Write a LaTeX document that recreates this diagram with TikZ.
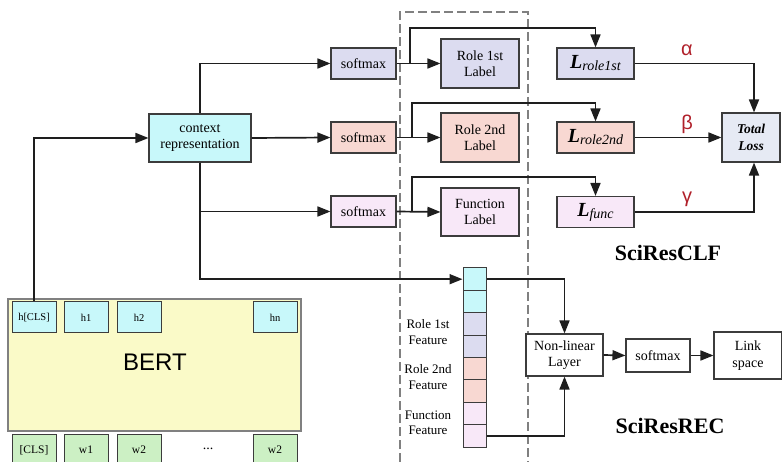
\documentclass[tikz,border=0pt]{standalone}
\usepackage{fontspec}
\setmainfont{Liberation Serif}
\newfontfamily\sansfam{Liberation Sans}
\usetikzlibrary{arrows.meta}
\definecolor{cy}{HTML}{C8F8FA}
\definecolor{lav}{HTML}{DCDCF0}
\definecolor{pnk}{HTML}{F8D8D2}
\definecolor{vio}{HTML}{F8E8F8}
\definecolor{yel}{HTML}{FAFAC8}
\definecolor{grn}{HTML}{CCF0C4}
\definecolor{tot}{HTML}{E6EAF4}
\definecolor{bdr}{HTML}{3C3C3C}
\definecolor{lncol}{HTML}{1E1E1E}
\definecolor{grk}{HTML}{B0202A}
\definecolor{dsh}{HTML}{808080}
\begin{document}
\begin{tikzpicture}[x=1pt,y=-1pt,
  box/.style={draw=bdr, line width=1.1pt, inner sep=0pt, align=center, font=\fontsize{14}{16.5}\selectfont},
  cell/.style={draw=bdr, line width=1pt, inner sep=0pt, font=\fontsize{10.5}{12}\selectfont},
  arr/.style={line width=1.7pt, draw=lncol, -{Triangle[length=13pt,width=10pt]}},
  plain/.style={line width=1.7pt, draw=lncol},
  feat/.style={align=center, font=\fontsize{13}{15.5}\selectfont},
  grklab/.style={text=grk, font=\sansfam\fontsize{20}{20}\selectfont},
  title/.style={font=\bfseries\fontsize{22}{24}\selectfont}]
\useasboundingbox (0,0) rectangle (782,462);

% dashed region
\draw[dsh, line width=1.2pt, dash pattern=on 9pt off 4pt] (400,475) -- (400,12) -- (528,12) -- (528,475);

% BERT
\node[draw=dsh, line width=1.2pt, fill=yel, minimum width=293pt, minimum height=132pt, inner sep=0pt] (bert) at (154.5,365) {};
\node[font=\sansfam\fontsize{24}{24}\selectfont] (berttxt) at (155,362) {BERT};
\node[cell, fill=cy, minimum width=44pt, minimum height=31pt] (hcls) at (34,317.5) {h[CLS]};
\node[cell, fill=cy, minimum width=44pt, minimum height=31pt] (h1) at (86,317.5) {h1};
\node[cell, fill=cy, minimum width=44pt, minimum height=31pt] (h2) at (139,317.5) {h2};
\node[cell, fill=cy, minimum width=44pt, minimum height=31pt] (hn) at (275,317.5) {hn};
\node[cell, fill=grn, minimum width=44pt, minimum height=32pt, font=\fontsize{11.5}{13}\selectfont] (wcls) at (34,450) {[CLS]};
\node[cell, fill=grn, minimum width=44pt, minimum height=32pt, font=\fontsize{11.5}{13}\selectfont] (w1) at (86,450) {w1};
\node[cell, fill=grn, minimum width=44pt, minimum height=32pt, font=\fontsize{11.5}{13}\selectfont] (w2) at (139,450) {w2};
\node[font=\fontsize{14}{14}\selectfont] (dots) at (208,449) {...};
\node[cell, fill=grn, minimum width=44pt, minimum height=32pt, font=\fontsize{11.5}{13}\selectfont] (wn) at (275,450) {w2};

% context
\node[box, fill=cy, minimum width=102pt, minimum height=48pt] (ctx) at (200,138) {context\\representation};

% softmax
\node[box, fill=lav, minimum width=65pt, minimum height=31pt] (sm1) at (363.5,63.5) {softmax};
\node[box, fill=pnk, minimum width=65pt, minimum height=31pt] (sm2) at (363.5,137.5) {softmax};
\node[box, fill=vio, minimum width=65pt, minimum height=31pt] (sm3) at (363.5,211.5) {softmax};

% labels
\node[box, fill=lav, minimum width=78pt, minimum height=49pt] (lab1) at (480,63.5) {Role 1st\\Label};
\node[box, fill=pnk, minimum width=78pt, minimum height=49pt] (lab2) at (480,137.5) {Role 2nd\\Label};
\node[box, fill=vio, minimum width=78pt, minimum height=48pt] (lab3) at (480,212) {Function\\Label};

% losses
\node[box, fill=lav, minimum width=77pt, minimum height=31pt] (L1) at (595.5,63.5) {{\fontsize{20}{20}\selectfont\bfseries\itshape L}\raisebox{-2pt}{\itshape\fontsize{14}{14}\selectfont role1st}};
\node[box, fill=pnk, minimum width=77pt, minimum height=31pt] (L2) at (595.5,137.5) {{\fontsize{20}{20}\selectfont\bfseries\itshape L}\raisebox{-2pt}{\itshape\fontsize{14}{14}\selectfont role2nd}};
\node[box, fill=vio, minimum width=77pt, minimum height=31pt] (L3) at (595.5,212) {{\fontsize{20}{20}\selectfont\bfseries\itshape L}\raisebox{-2pt}{\itshape\fontsize{14}{14}\selectfont func}};
\node[box, fill=tot, minimum width=58pt, minimum height=49pt, font=\bfseries\itshape\fontsize{13.5}{17}\selectfont] (total) at (751,137.5) {Total\\Loss};

\node[grklab] (alpha) at (687,50) {α};
\node[grklab] (beta) at (687,124) {β};
\node[grklab] (gamma) at (687,199) {γ};

\node[title] (clf) at (668,253) {SciResCLF};
\node[title] (rec) at (670,426) {SciResREC};

% feature vector
\foreach \i/\c in {1/cy,2/cy,3/lav,4/lav,5/pnk,6/pnk,7/vio,8/vio}
  \node[cell, fill=\c, minimum width=23pt, minimum height=22.375pt] (f\i) at (474.5,{268+22.375*(\i-0.5)}) {};
\node[feat] (ft1) at (428,332) {Role 1st\\Feature};
\node[feat] (ft2) at (428,377) {Role 2nd\\Feature};
\node[feat] (ft3) at (428,423) {Function\\Feature};

% REC
\node[box, fill=white, minimum width=77pt, minimum height=42pt] (nl) at (564.5,355) {Non-linear\\Layer};
\node[box, fill=white, minimum width=64pt, minimum height=33pt] (sm4) at (658,355.5) {softmax};
\node[box, fill=white, minimum width=68pt, minimum height=47pt] (link) at (748,355.5) {Link\\space};

% connectors
\draw[arr] (hcls.north) |- (ctx.west);
\draw[arr] (ctx.north) |- (sm1.west);
\draw[arr] (ctx.east) -- (sm2.west);
\draw[arr] (ctx.south) |- (sm3.west);
\draw[arr] (ctx.south) |- (f1.west);

\coordinate (b1) at (410,63.5);
\coordinate (b2) at (412,137.5);
\coordinate (b3) at (412,211.5);
\draw[arr] (sm1.east) -- (lab1.west);
\draw[arr] (sm2.east) -- (lab2.west);
\draw[arr] (sm3.east) -- (lab3.west);
\draw[arr] (b1) -- ++(0,-35.5) -| (L1.north);
\draw[arr] (b2) -- ++(0,-34.5) -| (L2.north);
\draw[arr] (b3) -- ++(0,-34.5) -| (L3.north);

\draw[arr] (L1.east) -| ([xshift=3pt]total.north);
\draw[arr] (L2.east) -- (total.west);
\draw[arr] (L3.east) -| ([xshift=3pt]total.south);

\draw[arr] (f1.east) -| (nl.north);
\draw[arr] (f8.east) -| (nl.south);
\draw[arr] (nl.east) -- (sm4.west);
\draw[arr] (sm4.east) -- (link.west);
\end{tikzpicture}
\end{document}
